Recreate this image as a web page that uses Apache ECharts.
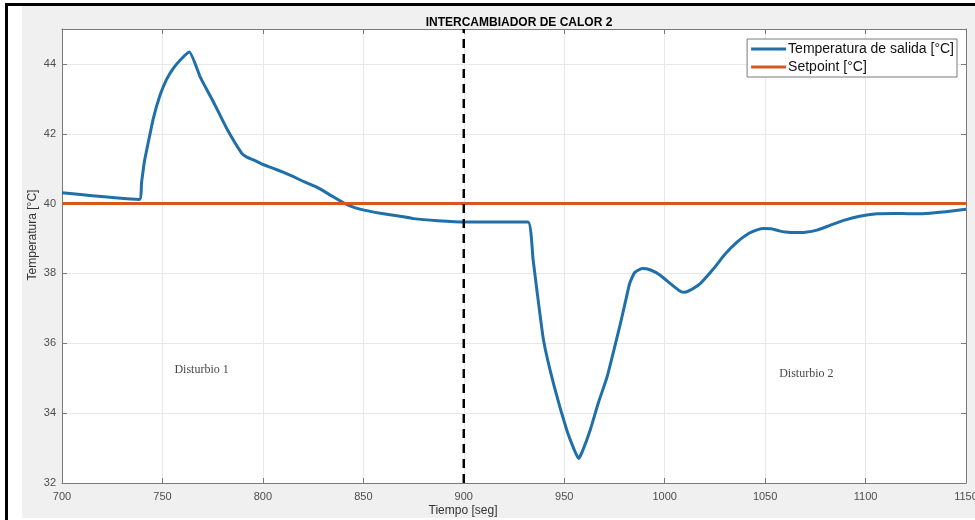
<!DOCTYPE html>
<html>
<head>
<meta charset="utf-8">
<script src="https://cdn.jsdelivr.net/npm/echarts@6/dist/echarts.min.js"></script>
<style>html,body{margin:0;padding:0;background:#fff}#c{width:975px;height:520px}</style>
</head>
<body>
<div id="c"></div>
<script>
// Data
const timeSec = [700, 738.5, 739.6, 741, 743, 745.5, 748.8, 752, 755.4, 759, 763.4, 769, 775.4, 782, 789.5, 792, 795.3, 800, 805.2, 810, 815.2, 820, 826.8, 834, 840.9, 846, 851.7, 860, 868.3, 875, 887, 900, 915, 932,
  934.5, 936.4, 939.7, 944.7, 951.3, 955, 957.1, 959, 962.9, 967, 971.3, 977.9, 980.5, 982.5, 985, 988.7, 993, 997.8, 1003, 1007, 1009.4, 1012, 1017.7, 1024.4, 1030, 1036, 1042, 1046, 1049.3, 1053, 1057, 1060, 1065, 1070, 1075.8, 1082, 1089.1, 1097, 1105.7, 1115, 1122, 1130, 1140, 1150];
const tempOut = [40.31, 40.12, 40.6, 41.2, 41.77, 42.45, 43.1, 43.55, 43.87, 44.12, 44.34, 43.6, 42.91, 42.15, 41.44, 41.33, 41.25, 41.12, 41.01, 40.9, 40.77, 40.64, 40.47, 40.23, 40.0, 39.88, 39.8, 39.71, 39.64, 39.57, 39.51, 39.47, 39.47, 39.47,
  38.4, 37.52, 36.09, 34.84, 33.51, 32.95, 32.70, 32.9, 33.51, 34.3, 35.03, 36.55, 37.2, 37.7, 38.02, 38.14, 38.1, 37.95, 37.7, 37.52, 37.46, 37.5, 37.71, 38.14, 38.55, 38.9, 39.15, 39.25, 39.29, 39.28, 39.22, 39.19, 39.17, 39.18, 39.24, 39.37, 39.52, 39.64, 39.71, 39.72, 39.71, 39.72, 39.77, 39.84];
const setpointTime = [700, 1150];
const setpointValue = [40, 40];
const disturbanceTime = [900, 900];
const disturbanceValue = [32, 45];
const seriesNames = ['Temperatura de salida [°C]', 'Setpoint [°C]'];
const annotations = [
  {text: 'Disturbio 1', t: 769.5, v: 35.24},
  {text: 'Disturbio 2', t: 1070.5, v: 35.12}
];

const zip = (a, b) => a.map((x, i) => [x, b[i]]);
const chart = echarts.init(document.getElementById('c'), null, {renderer: 'canvas'});
const axCol = '#7a7a7a', lblCol = '#4d4d4d', gridCol = '#e8e8e8';
const sans = "'Liberation Sans', Arial, sans-serif";
const plain = v => String(v);

const option = {
  backgroundColor: '#f0f0f0',
  animation: false,
  grid: {left: 62, right: 9, top: 29, bottom: 37, show: true, backgroundColor: '#ffffff', borderWidth: 0, containLabel: false, outerBoundsMode: 'none'},
  title: {
    text: 'INTERCAMBIADOR DE CALOR 2', left: 514, top: 12, textAlign: 'center',
    textStyle: {fontFamily: sans, fontSize: 12, fontWeight: 'bold', color: '#000'}
  },
  legend: {
    data: seriesNames, orient: 'vertical', right: 18, top: 39,
    itemWidth: 35, itemHeight: 3, itemGap: 4, icon: 'rect',
    padding: [3, 3, 3, 4],
    backgroundColor: '#fff', borderColor: '#7a7a7a', borderWidth: 1, borderRadius: 0,
    textStyle: {fontFamily: sans, fontSize: 14, color: '#111', padding: [0, 0, 0, -3]}
  },
  xAxis: [{
    type: 'value', min: 700, max: 1150, interval: 50,
    axisLine: {show: true, lineStyle: {color: axCol, width: 1}},
    axisTick: {show: true, inside: true, length: 5, lineStyle: {color: axCol}},
    axisLabel: {fontFamily: sans, fontSize: 11, color: lblCol, margin: 8, formatter: plain},
    splitLine: {show: true, lineStyle: {color: gridCol, width: 1}}
  }, {
    type: 'value', position: 'top', min: 700, max: 1150, interval: 50,
    axisLine: {show: true, lineStyle: {color: axCol, width: 1}},
    axisTick: {show: true, inside: true, length: 5, lineStyle: {color: axCol}},
    axisLabel: {show: false}, splitLine: {show: false}
  }],
  yAxis: [{
    type: 'value', min: 32, max: 45, interval: 2,
    axisLine: {show: true, lineStyle: {color: axCol, width: 1}},
    axisTick: {show: true, inside: true, length: 5, lineStyle: {color: axCol}},
    axisLabel: {fontFamily: sans, fontSize: 11, color: lblCol, margin: 6, showMaxLabel: false, formatter: plain},
    splitLine: {show: true, lineStyle: {color: gridCol, width: 1}}
  }, {
    type: 'value', position: 'right', min: 32, max: 45, interval: 2,
    axisLine: {show: true, lineStyle: {color: axCol, width: 1}},
    axisTick: {show: true, inside: true, length: 5, lineStyle: {color: axCol}},
    axisLabel: {show: false}, splitLine: {show: false}
  }],
  series: [{
    name: seriesNames[0], type: 'line', data: zip(timeSec, tempOut),
    showSymbol: false, symbol: 'none', smooth: 0.15,
    lineStyle: {color: '#1f6fa8', width: 3, join: 'round'}, itemStyle: {color: '#1f6fa8'}, z: 3
  }, {
    name: seriesNames[1], type: 'line', data: zip(setpointTime, setpointValue),
    showSymbol: false, symbol: 'none',
    lineStyle: {color: '#d9571e', width: 3}, itemStyle: {color: '#d9571e'}, z: 4
  }, {
    name: 'disturbio', type: 'line', data: zip(disturbanceTime, disturbanceValue),
    showSymbol: false, symbol: 'none',
    lineStyle: {color: '#000', width: 2.5, type: [9, 6]}, z: 5
  }, {
    name: 'annot', type: 'scatter', symbolSize: 0,
    data: annotations.map(a => ({value: [a.t, a.v], label: {show: true, formatter: a.text}})),
    label: {show: true, position: 'inside', fontFamily: "'Liberation Serif', 'Times New Roman', serif", fontSize: 12, color: '#111'},
    silent: true, z: 6
  }],
  graphic: [
    {type: 'rect', shape: {x: 0, y: 0, width: 22, height: 520}, style: {fill: '#fff'}, silent: true},
    {type: 'rect', shape: {x: 0, y: 0, width: 975, height: 3}, style: {fill: '#fff'}, silent: true},
    {type: 'rect', shape: {x: 0, y: 518, width: 975, height: 2}, style: {fill: '#fff'}, silent: true},
    {type: 'rect', shape: {x: 5, y: 3, width: 3, height: 517}, style: {fill: '#000'}, silent: true},
    {type: 'rect', shape: {x: 5, y: 3, width: 970, height: 3}, style: {fill: '#000'}, silent: true},
    {type: 'text', x: 463, y: 511, style: {text: 'Tiempo [seg]', font: "12px 'Liberation Sans', Arial", fill: '#333', align: 'center', verticalAlign: 'middle'}, silent: true},
    {type: 'text', x: 33, y: 235, rotation: Math.PI / 2, style: {text: 'Temperatura [°C]', font: "12px 'Liberation Sans', Arial", fill: '#333', align: 'center', verticalAlign: 'middle'}, silent: true}
  ]
};
chart.setOption(option);
</script>
</body>
</html>
